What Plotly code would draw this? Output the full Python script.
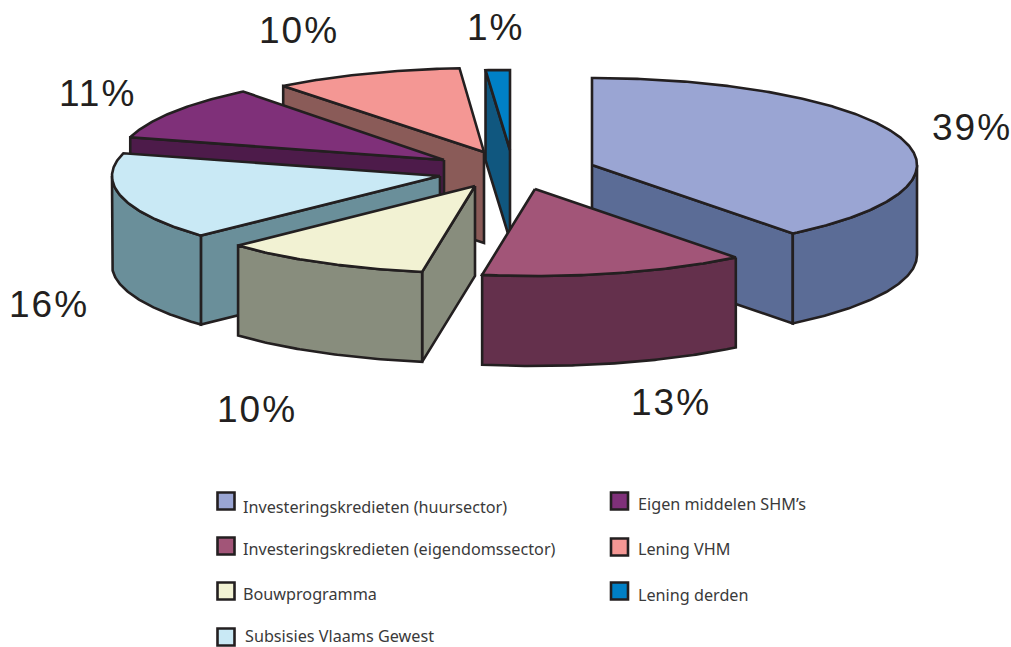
import numpy as np
import plotly.graph_objects as go

# --- data -------------------------------------------------------------
categories = ["Investeringskredieten (huursector)", "Investeringskredieten (eigendomssector)",
              "Bouwprogramma", "Subsisies Vlaams Gewest", "Eigen middelen SHM’s",
              "Lening VHM", "Lening derden"]
shares = [39.4, 13.2, 10.4, 16.2, 10.2, 9.4, 1.2]
share_labels = ["39%", "13%", "10%", "16%", "11%", "10%", "1%"]

# --- styles -----------------------------------------------------------
top_colors = ["#9aa5d3", "#a25578", "#f2f2d3", "#c9e9f5", "#7f3079", "#f49794", "#0080c6"]
wall_colors = ["#5b6c96", "#64304c", "#888d7d", "#6a8f9a", "#4d1b4a", "#8a5b58", "#10577f"]
LINE = "#231f20"
LW = 2.6
apex_x = [592, 535, 475, 440, 444, 484, 510]
apex_y = [165, 189, 186, 176, 160, 152, 150]
radii_x = [325, 325, 325, 328, 325, 325, 325]
radii_y = [87, 87, 87, 87, 87, 84, 80]
depths = [90, 90, 90, 89, 90, 91, 90]
draw_order = [6, 5, 4, 3, 2, 0, 1]
label_x = [972, 671, 257, 49, 97, 299, 495]
label_y = [127, 402, 409, 304, 93, 30, 27]
leg_sw_x = [226, 226, 226, 226, 619.5, 619.5, 619.5]
leg_sw_y = [501, 546, 591, 637, 501, 547, 591]
leg_tx_x = [241, 241, 241, 243, 636, 636, 636]
leg_tx_y = [507, 549, 594, 636, 504, 549, 595]

fig = go.Figure()


def poly(xs, ys, fill):
    fig.add_trace(go.Scatter(x=xs, y=ys, mode="lines", fill="toself", fillcolor=fill,
                             line=dict(color=LINE, width=LW, shape="linear"),
                             hoverinfo="skip", showlegend=False))


def rim(cx, cy, rx, ry, a0, a1):
    t = np.radians(np.linspace(a0, a1, max(2, int(abs(a1 - a0) * 2) + 1)))
    return cx + rx * np.sin(t), cy - ry * np.cos(t)


edges = np.concatenate([[0], np.cumsum(shares)]) * 3.6
# painter's order: back slices first
for i in draw_order:
    a0, a1 = edges[i], edges[i + 1]
    cx, cy, d, rx, ry = apex_x[i], apex_y[i], depths[i], radii_x[i], radii_y[i]
    wall = wall_colors[i]
    # radial walls that face the viewer
    for ang, vis in ((a0, 180 < a0 < 360), (a1, 0 < a1 < 180)):
        if vis:
            ex, ey = rim(cx, cy, rx, ry, ang, ang)
            ex, ey = ex[0], ey[0]
            poly([cx, ex, ex, cx, cx], [cy, ey, ey + d, cy + d, cy], wall)
    # outer curved wall (front half of the ellipse)
    lo, hi = max(a0, 90), min(a1, 270)
    if hi > lo:
        ax, ay = rim(cx, cy, rx, ry, lo, hi)
        poly(np.r_[ax, ax[::-1], ax[0]], np.r_[ay, ay[::-1] + d, ay[0]], wall)
    # top face
    ax, ay = rim(cx, cy, rx, ry, a0, a1)
    poly(np.r_[cx, ax, cx], np.r_[cy, ay, cy], top_colors[i])

# legend swatches
fig.add_trace(go.Scatter(x=leg_sw_x, y=leg_sw_y, mode="markers",
                         marker=dict(symbol="square", size=17, color=top_colors,
                                     line=dict(color=LINE, width=2.6)),
                         hoverinfo="skip", showlegend=False))

annotations = []
for t, x, y in zip(share_labels, label_x, label_y):
    annotations.append(dict(x=x, y=y, text=t, showarrow=False, xanchor="center", yanchor="middle",
                            font=dict(family="Liberation Sans", size=37, color="#231f20")))
for t, x, y in zip(categories, leg_tx_x, leg_tx_y):
    annotations.append(dict(x=x, y=y, text=t, showarrow=False, xanchor="left", yanchor="middle",
                            font=dict(family="Noto Sans", size=16.2, color="#3a3a3a")))

fig.update_layout(
    width=1011, height=647, margin=dict(l=0, r=0, t=0, b=0),
    paper_bgcolor="white", plot_bgcolor="white", showlegend=False,
    xaxis=dict(range=[0, 1011], visible=False, fixedrange=True),
    yaxis=dict(range=[647, 0], visible=False, fixedrange=True),
    annotations=annotations,
)
spacing_js = """
document.body.style.margin='0';
document.querySelectorAll('.annotation-text').forEach(function(t){
  if (/%$/.test(t.textContent)) { t.style.letterSpacing='2px'; }
});
"""
fig.write_html("out.html", post_script=spacing_js, config={"displayModeBar": False})
